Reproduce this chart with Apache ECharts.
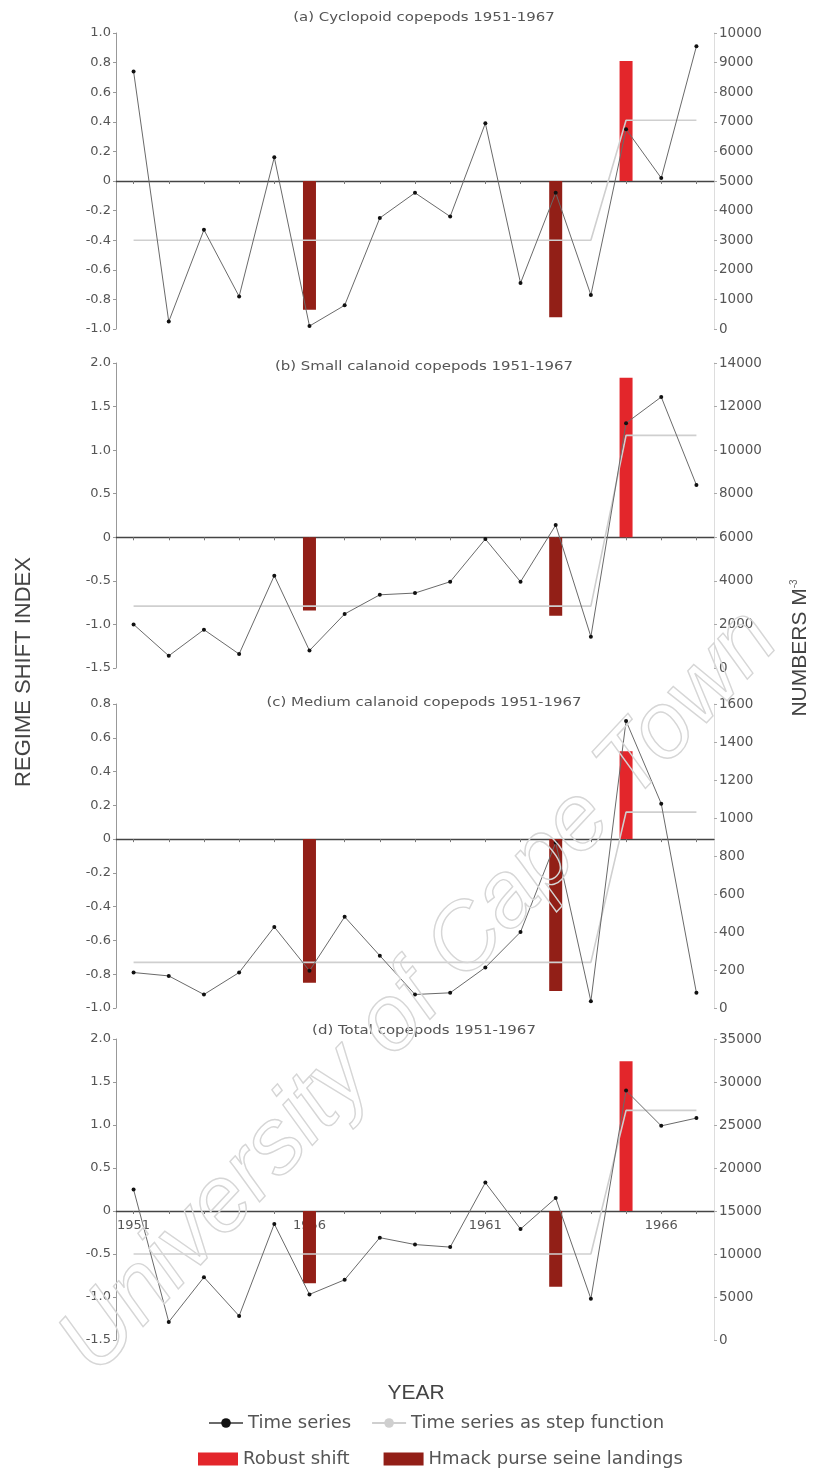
<!DOCTYPE html>
<html><head><meta charset="utf-8">
<script src="https://cdn.jsdelivr.net/npm/echarts@6/dist/echarts.min.js"></script>
<style>html,body{margin:0;padding:0;background:#fff}#c{width:820px;height:1478px}</style>
</head><body><div id="c"></div>
<script>
// ---- data ----
const years = ['1951','1952','1953','1954','1955','1956','1957','1958','1959','1960','1961','1962','1963','1964','1965','1966','1967'];
const panelTitles = ['(a) Cyclopoid copepods 1951-1967','(b) Small calanoid copepods 1951-1967','(c) Medium calanoid copepods 1951-1967','(d) Total copepods 1951-1967'];

const seriesA = [0.74,-0.95,-0.33,-0.78,0.16,-0.98,-0.84,-0.25,-0.08,-0.24,0.39,-0.69,-0.08,-0.77,0.35,0.02,0.91];
const stepA   = [-0.40,-0.40,-0.40,-0.40,-0.40,-0.40,-0.40,-0.40,-0.40,-0.40,-0.40,-0.40,-0.40,-0.40,0.41,0.41,0.41];
const landingsA = ['-','-','-','-','-',-0.87,'-','-','-','-','-','-',-0.92,'-','-','-','-'];
const robustA   = ['-','-','-','-','-','-','-','-','-','-','-','-','-','-',0.81,'-','-'];

const seriesB = [-1.00,-1.36,-1.06,-1.34,-0.44,-1.30,-0.88,-0.66,-0.64,-0.51,-0.02,-0.51,0.14,-1.14,1.31,1.61,0.60];
const stepB   = [-0.79,-0.79,-0.79,-0.79,-0.79,-0.79,-0.79,-0.79,-0.79,-0.79,-0.79,-0.79,-0.79,-0.79,1.17,1.17,1.17];
const landingsB = ['-','-','-','-','-',-0.84,'-','-','-','-','-','-',-0.90,'-','-','-','-'];
const robustB   = ['-','-','-','-','-','-','-','-','-','-','-','-','-','-',1.83,'-','-'];

const seriesC = [-0.79,-0.81,-0.92,-0.79,-0.52,-0.78,-0.46,-0.69,-0.92,-0.91,-0.76,-0.55,-0.02,-0.96,0.70,0.21,-0.91];
const stepC   = [-0.73,-0.73,-0.73,-0.73,-0.73,-0.73,-0.73,-0.73,-0.73,-0.73,-0.73,-0.73,-0.73,-0.73,0.16,0.16,0.16];
const landingsC = ['-','-','-','-','-',-0.85,'-','-','-','-','-','-',-0.90,'-','-','-','-'];
const robustC   = ['-','-','-','-','-','-','-','-','-','-','-','-','-','-',0.52,'-','-'];

const seriesD = [0.25,-1.29,-0.77,-1.22,-0.15,-0.97,-0.80,-0.31,-0.39,-0.42,0.33,-0.21,0.15,-1.02,1.40,0.99,1.08];
const stepD   = [-0.50,-0.50,-0.50,-0.50,-0.50,-0.50,-0.50,-0.50,-0.50,-0.50,-0.50,-0.50,-0.50,-0.50,1.17,1.17,1.17];
const landingsD = ['-','-','-','-','-',-0.84,'-','-','-','-','-','-',-0.88,'-','-','-','-'];
const robustD   = ['-','-','-','-','-','-','-','-','-','-','-','-','-','-',1.74,'-','-'];

const leftRanges  = [[-1,1,0.2],[-1.5,2,0.5],[-1,0.8,0.2],[-1.5,2,0.5]];
const rightRanges = [[0,10000,1000],[0,14000,2000],[0,1600,200],[0,35000,5000]];

// ---- layout ----
const gridBoxes = [{top:33,height:296},{top:363,height:305},{top:704,height:304},{top:1039,height:301}];
const titleY = [18,367,703,1031];
const panels = [
  [seriesA,stepA,landingsA,robustA],
  [seriesB,stepB,landingsB,robustB],
  [seriesC,stepC,landingsC,robustC],
  [seriesD,stepD,landingsD,robustD]
];
const FONT = 'DejaVu Sans';
const TXT = '#555';

const grid=[], xAxis=[], yAxis=[], series=[], graphic=[];
panels.forEach((p,i)=>{
  grid.push({left:116,right:106,top:gridBoxes[i].top,height:gridBoxes[i].height});
  xAxis.push({type:'category',gridIndex:i,data:years,boundaryGap:true,
    axisLine:{onZero:true,lineStyle:{color:'#444',width:1.3}},
    axisTick:{show:true,alignWithLabel:true,interval:0,length:3,lineStyle:{color:'#777'}},
    axisLabel:{show:false},
    splitLine:{show:false}});
  const L=leftRanges[i], R=rightRanges[i];
  yAxis.push({type:'value',gridIndex:i,position:'left',min:L[0],max:L[1],interval:L[2],
    axisLine:{show:true,lineStyle:{color:'#999'}},axisTick:{show:true,length:3,lineStyle:{color:'#999'}},
    splitLine:{show:false},
    axisLabel:{fontSize:13,color:TXT,fontFamily:FONT,margin:5,
      formatter:v=>Math.abs(v)<1e-9?'0':(Math.round(v*10)/10).toFixed(1)}});
  yAxis.push({type:'value',gridIndex:i,position:'right',min:R[0],max:R[1],interval:R[2],
    axisLine:{show:true,lineStyle:{color:'#ddd'}},axisTick:{show:true,length:3,lineStyle:{color:'#aaa'}},
    splitLine:{show:false},
    axisLabel:{fontSize:13.5,color:TXT,fontFamily:FONT,margin:5,formatter:v=>String(Math.round(v))}});
  const yl=i*2;
  series.push({name:'Hmack purse seine landings',type:'bar',xAxisIndex:i,yAxisIndex:yl,data:p[2],
    barWidth:13,barGap:'-100%',itemStyle:{color:'#921f17'},z:1,animation:false});
  series.push({name:'Robust shift',type:'bar',xAxisIndex:i,yAxisIndex:yl,data:p[3],
    barWidth:13,barGap:'-100%',itemStyle:{color:'#e3262b'},z:1,animation:false});
  series.push({name:'Time series as step function',type:'line',xAxisIndex:i,yAxisIndex:yl,data:p[1],
    showSymbol:false,symbol:'none',lineStyle:{color:'#cfcfcf',width:1.6},itemStyle:{color:'#cfcfcf'},z:3,animation:false});
  series.push({name:'Time series',type:'line',xAxisIndex:i,yAxisIndex:yl,data:p[0],
    symbol:'circle',symbolSize:4,lineStyle:{color:'#6a6a6a',width:1},itemStyle:{color:'#111'},z:4,animation:false});
  graphic.push({type:'text',x:424,y:titleY[i],scaleX:1.15,style:{text:panelTitles[i],fontSize:13,fill:TXT,fontFamily:FONT,
    textAlign:'center',textVerticalAlign:'middle'}});
});
// year labels of the bottom panel, drawn by an extra category axis lifted to the zero line
const Ld = leftRanges[3];
xAxis.push({type:'category',gridIndex:3,data:years,boundaryGap:true,position:'bottom',
  offset:-gridBoxes[3].height*(0-Ld[0])/(Ld[1]-Ld[0]),
  axisLine:{show:false,onZero:false},axisTick:{show:false},splitLine:{show:false},
  axisLabel:{show:true,interval:4,margin:8,fontSize:13,color:TXT,fontFamily:FONT}});

graphic.push({type:'text',x:24,y:672,rotation:Math.PI/2,style:{text:'REGIME SHIFT INDEX',fontSize:22,fill:'#444',
  fontFamily:'Liberation Sans',textAlign:'center',textVerticalAlign:'middle'}});
graphic.push({type:'text',x:800,y:648,rotation:Math.PI/2,style:{text:'{a|NUMBERS M}{s|-3}',fill:'#444',
  fontFamily:'Liberation Sans',textAlign:'center',textVerticalAlign:'middle',
  rich:{a:{fontSize:21,fill:'#444',fontFamily:'Liberation Sans',verticalAlign:'bottom'},
        s:{fontSize:10,fill:'#666',fontFamily:'Liberation Sans',verticalAlign:'top'}}}});
graphic.push({type:'text',x:416,y:1393,style:{text:'YEAR',fontSize:21,fill:'#444',fontFamily:'Liberation Sans',
  textAlign:'center',textVerticalAlign:'middle'}});
graphic.push({type:'text',x:420,y:992,rotation:0.82,z:100,silent:true,style:{text:'University of Cape Town',fontSize:93,
  fontStyle:'italic',fontFamily:'Liberation Sans',fill:'rgba(255,255,255,0)',stroke:'#d6d6d6',lineWidth:1.4,
  textAlign:'center',textVerticalAlign:'middle'}});

const option={
  animation:false,
  backgroundColor:'#fff',
  grid, xAxis, yAxis, series, graphic,
  legend:[
    {data:['Time series','Time series as step function'],top:1409,left:203,itemWidth:34,itemHeight:12,itemGap:20,
     textStyle:{fontSize:18,color:TXT,fontFamily:FONT},selectedMode:false},
    {data:[{name:'Robust shift',icon:'rect'},{name:'Hmack purse seine landings',icon:'rect'}],top:1445,left:193,
     itemWidth:40,itemHeight:13,itemGap:34,textStyle:{fontSize:18,color:TXT,fontFamily:FONT},selectedMode:false}
  ]
};
const chart=echarts.init(document.getElementById('c'));
chart.setOption(option);
</script></body></html>
